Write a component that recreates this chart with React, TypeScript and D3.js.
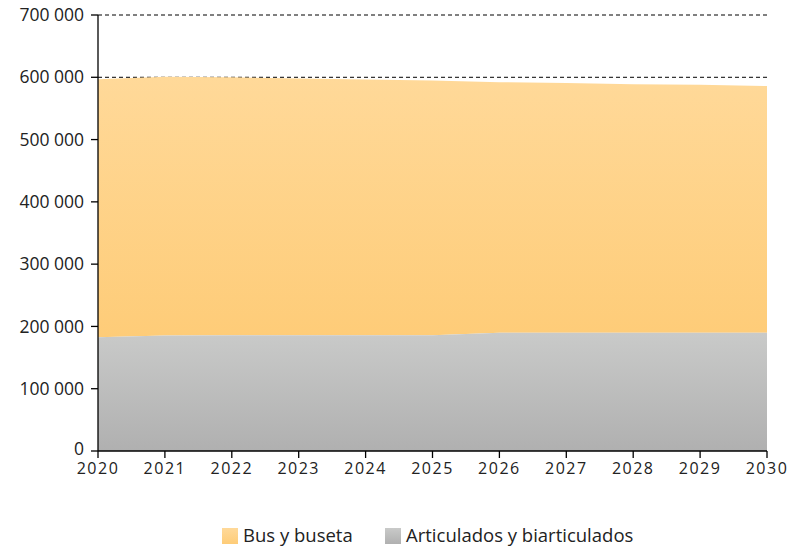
import React from "react";
import * as d3 from "d3";

const years = [2020, 2021, 2022, 2023, 2024, 2025, 2026, 2027, 2028, 2029, 2030];
const articulados = [182500, 185500, 186000, 186000, 186000, 186000, 190000, 190000, 190000, 190000, 190000];
const busBuseta = [414500, 415500, 414000, 412000, 410500, 409000, 402000, 401000, 399000, 398000, 396000];
const yTicks = [0, 100000, 200000, 300000, 400000, 500000, 600000, 700000];
const seriesNames = ["Bus y buseta", "Articulados y biarticulados"];

const W = 788, H = 548;
const M = { left: 98, right: 767, top: 15, bottom: 451 };
const FONT = "'Open Sans', Lato, sans-serif";

export default function App() {
  const x = d3.scaleLinear().domain([2020, 2030]).range([M.left, M.right]);
  const y = d3.scaleLinear().domain([0, 700000]).range([M.bottom, M.top]);
  const fmt = (v: number) => d3.format(",")(v).replace(/,/g, " ");

  const grayArea = d3.area<number>()
    .x((_, i) => x(years[i]))
    .y0(() => y(0))
    .y1((d) => y(d));
  const orangeArea = d3.area<number>()
    .x((_, i) => x(years[i]))
    .y0((_, i) => y(articulados[i]))
    .y1((d, i) => y(articulados[i] + d));

  return (
    <svg width={W} height={H} style={{ position: "absolute", left: 0, top: 0 }} fontFamily={FONT}>
      <defs>
        <linearGradient id="gOrange" x1="0" y1="0" x2="0" y2="1">
          <stop offset="0" stopColor="#FFD999" />
          <stop offset="1" stopColor="#FECC78" />
        </linearGradient>
        <linearGradient id="gGray" x1="0" y1="0" x2="0" y2="1">
          <stop offset="0" stopColor="#C9CAC9" />
          <stop offset="1" stopColor="#B0B0B0" />
        </linearGradient>
      </defs>
      <rect width={W} height={H} fill="#fff" />
      {yTicks.filter((t) => t > 0).map((t) => (
        <line key={t} x1={M.left} x2={M.right} y1={y(t)} y2={y(t)} stroke="#000" strokeWidth={1} strokeDasharray="4,3" />
      ))}
      <path d={orangeArea(busBuseta) || ""} fill="url(#gOrange)" />
      <path d={grayArea(articulados) || ""} fill="url(#gGray)" />
      <line x1={M.left} x2={M.left} y1={M.top} y2={M.bottom} stroke="#000" strokeWidth={1.3} />
      <line x1={M.left} x2={M.right} y1={M.bottom} y2={M.bottom} stroke="#000" strokeWidth={1.3} />
      {yTicks.map((t) => (
        <g key={t}>
          <line x1={M.left - 7} x2={M.left} y1={y(t)} y2={y(t)} stroke="#000" strokeWidth={1.3} />
          <text x={84} y={t === 0 ? y(t) - 2 : y(t)} dy="0.35em" textAnchor="end" fontSize={17.5} fill="#222">{fmt(t)}</text>
        </g>
      ))}
      {years.map((yr) => (
        <g key={yr}>
          <line x1={x(yr)} x2={x(yr)} y1={M.bottom} y2={M.bottom + 7} stroke="#000" strokeWidth={1.3} />
          <text x={x(yr)} y={474} textAnchor="middle" fontSize={16} fill="#222" letterSpacing="1.5">{yr}</text>
        </g>
      ))}
      <g>
        <rect x={222} y={528} width={16} height={16} fill="url(#gOrange)" />
        <text x={243} y={542} fontSize={18.5} fill="#222">{seriesNames[0]}</text>
        <rect x={385} y={528} width={16} height={16} fill="url(#gGray)" />
        <text x={406} y={542} fontSize={18.5} fill="#222">{seriesNames[1]}</text>
      </g>
    </svg>
  );
}
